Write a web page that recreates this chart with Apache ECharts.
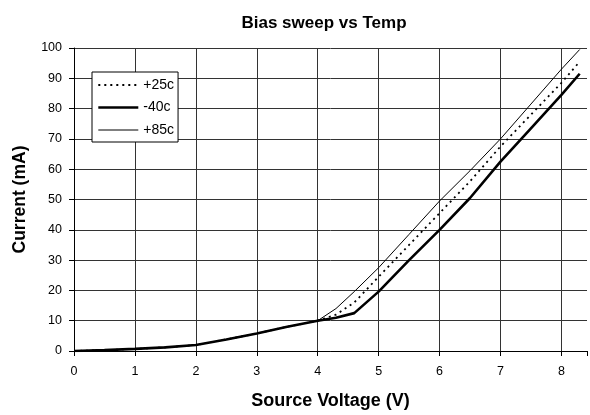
<!DOCTYPE html>
<html><head><meta charset="utf-8">
<script src="https://cdn.jsdelivr.net/npm/echarts@6/dist/echarts.min.js"></script>
<style>html,body{margin:0;padding:0;background:#fff}#c{width:590px;height:415px}</style>
</head><body><div id="c"></div>
<script>
const voltage = [0,0.5,1,1.5,2,2.5,3,3.5,4,4.3,4.6,5,5.5,6,6.5,7,7.5,8,8.3];
const temp25 = [0,0.3,0.7,1.2,2,3.8,5.8,8,10,12,16,24.5,35,45.5,56,67.5,78,88.5,95.5];
const tempM40 = [0,0.3,0.7,1.2,2,3.8,5.8,8,10,11,12.5,19.6,30,40,50.5,62.5,73.5,84.5,91.5];
const temp85 = [0,0.3,0.7,1.2,2,3.8,5.8,8,10,14,19.6,27.5,38.5,49.5,59.5,70,81.5,93,99.5];
const seriesNames = ['+25c','-40c','+85c'];

const lineWidths = [1.8,2.6,1];
const lineTypes = [[2,4],'solid','solid'];
const pair = (ys) => voltage.map((x,i)=>[x,ys[i]]);
const font = 'Liberation Sans, Arial, sans-serif';
const chart = echarts.init(document.getElementById('c'));
chart.setOption({
  animation:false,
  backgroundColor:'#fff',
  title:{text:'Bias sweep vs Temp',left:319,top:10,textAlign:'center',
    textStyle:{fontFamily:font,fontSize:17,fontWeight:'bold',color:'#000'}},
  grid:{left:74,right:-2,top:48,bottom:64,containLabel:false},
  legend:{orient:'vertical',left:92,top:72,
    backgroundColor:'#fff',borderColor:'#000',borderWidth:1,
    padding:[6,4,5,5],itemWidth:40,itemHeight:14,itemGap:8.5,
    itemStyle:{color:'rgba(0,0,0,0)',borderColor:'rgba(0,0,0,0)',borderWidth:0,opacity:0},
    textStyle:{fontFamily:font,fontSize:14,color:'#000'},
    data:seriesNames.map((n,i)=>({name:n,lineStyle:{width:lineWidths[i],type:lineTypes[i],color:'#000'}}))},
  xAxis:{type:'value',min:0,max:8.42,interval:1,
    name:'Source Voltage (V)',nameLocation:'middle',nameGap:41,
    nameTextStyle:{fontFamily:font,fontSize:18,fontWeight:'bold',color:'#000'},
    axisLine:{show:true,lineStyle:{color:'#000',width:1}},
    axisTick:{show:true,length:5,lineStyle:{color:'#000'}},
    axisLabel:{fontFamily:font,fontSize:12.5,color:'#000',margin:14,
      formatter:v=>Number.isInteger(v)?String(v):''},
    splitLine:{show:true,showMaxLine:false,lineStyle:{color:'#333',width:1}}},
  yAxis:{type:'value',min:0,max:100,interval:10,
    name:'Current (mA)',nameLocation:'middle',nameGap:45,nameRotate:90,
    nameTextStyle:{fontFamily:font,fontSize:17.5,fontWeight:'bold',color:'#000'},
    axisLine:{show:true,lineStyle:{color:'#000',width:1}},
    axisTick:{show:true,length:5,lineStyle:{color:'#000'}},
    axisLabel:{fontFamily:font,fontSize:12.5,color:'#000',margin:12},
    splitLine:{show:true,lineStyle:{color:'#333',width:1}}},
  series:[
    {name:seriesNames[0],type:'line',data:pair(temp25),symbol:'none',
      lineStyle:{color:'#000',width:lineWidths[0],type:lineTypes[0]},itemStyle:{color:'#000'}},
    {name:seriesNames[1],type:'line',data:pair(tempM40),symbol:'none',
      lineStyle:{color:'#000',width:lineWidths[1],type:lineTypes[1]},itemStyle:{color:'#000'}},
    {name:seriesNames[2],type:'line',data:pair(temp85),symbol:'none',
      lineStyle:{color:'#000',width:lineWidths[2],type:lineTypes[2]},itemStyle:{color:'#000'}}
  ]
});
</script></body></html>
